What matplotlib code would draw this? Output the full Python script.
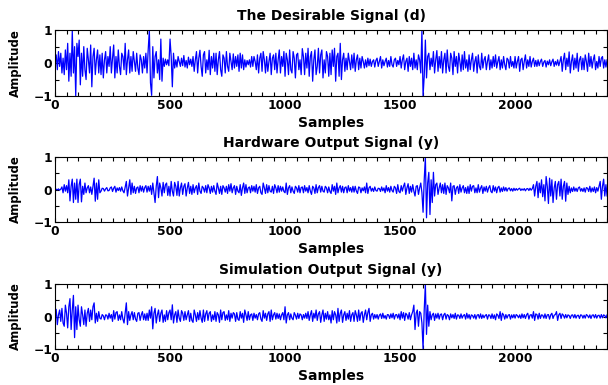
import numpy as np
import matplotlib.pyplot as plt
from matplotlib.ticker import MultipleLocator

plt.rcParams['font.family'] = ['DejaVu Sans']
plt.rcParams['font.weight'] = 'bold'

# sample step between the values
step = 5

# The Desirable Signal (d), one row per 100 samples
desired = [
    .05, .25, -.2, .35, -.1, .3, -.3, .15, -.35, .4, -.2, .6, -.55, .3, -.4, .97, -.3, .5, -1.0, .6,
    .2, .7, -.66, .3, -.4, .5, -.2, -.5, .45, .1, -.3, .55, -.72, .2, .45, -.35, .1, .4, -.3, .25,
    -.35, .3, -.45, .1, .35, -.3, .2, -.1, .5, -.3, .15, .55, -.45, .2, -.3, .4, -.1, -.35, .3, .2,
    -.2, .6, -.35, .1, .4, -.3, .2, -.25, .35, .05, -.25, .3, -.15, -.35, .25, .1, -.3, .2, -.15, .3,
    -.3, .4, 1.0, -.6, -.98, .5, -.45, .2, .35, -.3, .1, -.5, .73, -.55, .15, -.1, .12, -.05, .1, -.08,
    .73, .2, -.72, .3, -.15, .1, -.12, .2, .05, -.1, .15, -.08, .23, -.12, .08, -.15, .18, -.05, .12, -.1,
    .2, -.25, .1, .35, -.3, .15, .39, -.1, -.4, .25, .35, -.3, .1, -.2, .39, -.35, .2, -.15, .3, -.25,
    .3, -.35, .1, .35, -.2, -.4, .25, .15, -.3, .35, -.1, -.25, .3, .05, -.2, .28, -.15, .2, -.1, .25,
    -.25, .3, -.15, .25, -.2, .1, -.12, .08, -.05, .1, -.12, .2, -.1, .2, .05, -.2, .25, -.3, .15, .3,
    -.25, .35, .1, -.3, .2, -.25, .05, .3, -.35, .15, .25, -.2, .3, -.3, .1, .4, -.3, .2, -.1, .35,
    -.4, .3, .1, -.35, .4, -.2, -.3, .35, .15, -.45, .25, .3, -.2, .1, -.35, .44, .2, -.35, .3, -.15,
    .45, -.4, .2, .35, -.55, .1, .4, -.35, -.1, .45, -.3, .25, .4, -.45, .1, -.3, .35, .2, -.4, .3,
    -.35, .4, -.1, .45, -.55, .2, .3, -.4, .6, -.5, .1, .3, -.25, .15, -.2, .3, .05, -.2, .25, -.15,
    .3, -.25, .1, .25, -.2, .15, -.15, .2, .05, -.15, .1, -.12, .15, -.08, .12, -.1, .05, .1, -.12, .08,
    .15, -.1, .05, .2, -.15, .1, -.08, .05, .15, -.12, .08, -.1, .2, -.05, -.12, .1, .15, -.1, .08, -.05,
    .2, -.15, .1, .25, -.2, .05, .15, -.25, .2, -.1, .15, -.2, .3, -.15, .1, -.2, .25, .1, -.3, 1.0,
    -1.0, -.4, .7, -.45, .2, .3, -.2, .15, -.1, .35, -.3, .1, .38, -.25, .2, -.15, .35, -.3, .1, .3,
    -.3, .4, -.1, -.25, .3, .15, -.35, .35, -.1, .2, -.3, .3, .05, -.25, .25, -.2, .35, -.15, .1, -.25,
    .25, -.2, .1, .3, -.25, .05, .2, -.3, .25, -.1, -.2, .3, -.15, .1, .2, -.2, .05, .25, -.2, .1,
    -.15, .2, -.1, .25, -.15, .05, .2, -.2, .1, -.15, .2, -.05, -.2, .15, .1, -.15, .2, -.1, .05, -.15,
    .2, -.15, .05, .2, -.25, .1, .15, -.2, .05, .25, -.15, .1, -.1, .2, -.12, .05, .15, -.1, .08, -.1,
    .1, -.08, .05, .12, -.1, .03, .08, -.12, .06, -.05, .1, -.08, .04, .12, -.1, .05, -.06, .1, -.08, .05,
    .2, -.25, .1, .3, -.2, .15, -.1, .34, -.3, .05, .25, -.2, .15, -.15, .3, -.25, .1, .2, -.2, .15,
    -.2, .25, .05, -.25, .3, -.1, .2, -.15, .1, .25, -.2, .05, -.15, .2, -.1, .15, .2, -.15, .1, -.12,
    .1,
]

# Hardware Output Signal (y)
hardware = [
    0, .01, -.01, .02, -.02, .01, .08, -.1, .15, -.05, .12, -.1, .3, -.35, .1, .32, -.4, .2, -.3, .32,
    -.4, .15, .32, -.38, .1, -.15, .2, -.1, .05, .12, -.1, .08, -.15, .1, .35, -.36, .2, -.3, .3, -.1,
    -.05, .04, .03, -.05, .02, .06, -.04, -.03, .05, .08, -.06, .04, .1, -.08, .05, -.03, .06, -.05, .08, -.04,
    -.1, .08, .25, -.2, .05, .3, -.15, .2, -.1, .1, -.12, .05, .08, -.1, .12, -.05, .1, -.08, .06, .12,
    -.08, .1, -.05, .12, -.15, .2, -.1, -.4, .1, .4, -.25, .2, .05, -.2, .22, -.1, .15, .2, -.18, .1,
    -.2, .25, -.05, -.2, .22, .1, -.18, .25, -.2, .05, .2, -.15, .1, .18, -.2, .05, .22, -.12, .1, -.15,
    .15, -.1, .05, .12, -.15, .2, -.05, -.12, .1, .05, -.08, .12, -.1, .15, .05, -.12, .1, -.08, .12, -.05,
    -.15, .2, .05, -.12, .1, -.15, .12, .05, -.08, .1, -.12, .15, -.05, .18, -.1, .05, .12, -.15, .1, -.05,
    -.1, .15, -.18, .05, .2, -.12, .15, -.1, .05, .08, -.1, .12, -.05, .1, -.08, .15, -.12, .05, .1, -.1,
    -.15, .2, .05, -.12, .15, -.1, .12, -.05, -.08, .1, -.12, .15, .05, -.1, .12, -.08, .1, -.05, .08, -.06,
    -.1, .2, -.15, .05, .12, -.1, .08, -.05, -.12, .1, .05, -.08, .12, -.1, .06, .08, -.1, .12, -.05, .06,
    -.1, .12, -.05, -.15, .1, .05, -.12, .15, -.1, .06, .12, -.08, .1, -.05, -.08, .1, .05, -.1, .08, -.06,
    -.12, .15, -.05, .1, -.15, .2, -.1, .05, .12, -.08, .1, -.1, .06, .08, -.1, .12, -.05, .06, -.08, .1,
    -.08, .1, -.05, -.12, .08, .06, -.1, .05, -.04, .08, -.1, .2, -.12, .05, .1, -.05, .04, -.06, .08, -.03,
    -.05, .04, .03, -.06, .08, -.04, .05, -.1, .12, -.05, .06, -.08, .1, -.03, -.08, .1, .05, -.12, .15, -.06,
    -.1, .12, -.05, .1, .2, -.15, .05, .18, -.12, .1, -.08, .15, -.05, -.2, .1, .12, -.15, .05, .2, -.1,
    -.7, .3, 1.0, -.87, .2, .53, -.77, .3, -.4, .53, -.2, .15, .2, -.15, .05, .2, -.1, .15, -.12, .2,
    -.15, .12, .05, -.1, .2, -.35, .1, .12, -.15, .05, .1, -.12, .15, -.08, .05, .12, -.1, .06, -.12, .1,
    -.12, .15, -.05, .1, .12, -.1, .05, -.1, .15, -.08, .04, .12, -.12, .08, -.05, .1, -.08, .05, .12, -.06,
    -.1, .12, -.05, .08, -.1, .06, .1, -.08, .05, -.06, .08, -.04, .06, -.05, .03, .05, -.04, .03, -.05, .04,
    -.03, .03, -.02, .02, .04, -.03, .02, -.02, .03, -.04, .02, .03, -.03, .04, -.02, .03, .15, -.2, .1, .25,
    -.25, .2, -.1, .3, -.22, .15, -.35, .4, .1, -.43, .35, -.2, .3, -.4, .05, .25, -.3, .15, .25, -.2,
    .32, -.3, .1, .25, -.36, .2, -.15, .1, -.1, .05, -.06, .08, -.05, .04, -.06, .05, .08, -.05, .03, -.06,
    .05, -.08, .06, .04, -.06, .1, -.08, .05, -.06, .08, -.1, .06, -.05, .1, .25, -.3, .1, .32, -.2, .15,
    -.2,
]

# Simulation Output Signal (y)
simulation = [
    .1, .22, -.25, .05, .2, -.15, .25, -.2, -.3, .35, .1, -.35, .3, .55, -.4, .2, .65, -.65, .3, -.4,
    .35, -.1, -.3, .3, .05, -.25, .2, -.3, .1, .25, -.15, .2, -.1, .3, .42, -.2, .1, -.15, .15, -.05,
    -.08, .06, .02, -.1, .05, .04, -.08, .1, -.05, .06, -.15, .18, -.08, .12, .15, -.12, .05, -.1, .15, -.08,
    -.2, .1, .42, -.25, .15, -.12, .05, .15, -.1, .12, -.08, -.15, .1, .12, -.12, .05, .15, -.1, .08, -.12,
    .1, -.12, .2, -.05, .3, -.38, .1, .25, -.2, .05, .2, -.15, .1, .2, -.18, .05, -.15, .18, -.1, .12,
    .2, -.1, .36, -.2, .05, .15, -.18, .2, -.05, -.15, .18, .1, -.12, .15, -.1, .05, .18, -.15, .1, -.12,
    -.18, .2, .05, -.15, .12, -.1, .18, -.05, -.18, .2, -.15, .08, .18, -.12, .1, .15, -.15, .05, -.1, .15,
    -.15, .12, .05, -.18, .2, -.1, .12, .15, -.12, .05, -.1, .18, -.15, .1, -.05, .12, .08, -.15, .12, -.08,
    -.12, .15, -.05, .1, -.18, .2, .05, -.12, .15, -.1, .05, .08, -.12, .1, -.05, .06, -.1, .08, .12, -.08,
    -.15, .18, -.05, .1, -.12, .08, .15, -.15, .2, -.1, .05, .12, -.08, .1, -.06, .08, -.1, .05, .12, -.1,
    .3, -.2, .05, .12, -.1, .08, -.05, -.1, .12, .04, -.08, .1, -.06, .08, .05, -.1, .06, -.05, .1, -.06,
    .15, -.12, .05, .18, -.15, .1, -.05, .2, -.12, .08, .15, -.18, .05, .2, -.15, .1, -.08, .15, -.1, .05,
    -.2, .18, -.1, .15, .05, -.2, .25, -.15, .1, .2, -.18, .05, .15, -.12, .1, -.08, .18, -.15, .05, .12,
    -.15, .18, .05, -.15, .2, -.12, .1, .15, -.18, .05, .2, -.1, .12, .25, -.15, .05, .1, -.08, .06, -.05,
    .06, -.08, .04, .08, -.06, .1, -.05, .03, -.08, .06, .05, -.06, .08, -.04, .1, -.08, .05, .06, -.05, .08,
    -.1, .15, -.05, .12, -.12, .1, .05, -.08, .12, -.1, .05, .15, .35, -.4, .1, .2, -.3, .15, .1, -.2,
    -1.0, .2, 1.0, -.55, .35, -.3, .15, -.1, .05, .1, -.12, .08, -.05, .1, -.08, .06, .08, -.1, .05, .1,
    -.08, .06, .03, -.1, .08, -.04, .06, -.06, .1, -.08, .05, .04, -.06, .08, -.05, .03, .06, -.08, .1, -.05,
    .06, -.08, .05, .03, -.05, .06, -.08, .04, .06, -.05, .08, -.06, .05, -.04, .03, .06, -.08, .05, .04, -.06,
    .08, -.06, .05, -.1, .08, .04, -.06, .15, -.12, .1, .05, -.08, .06, -.05, .04, .06, -.08, .05, -.04, .06,
    -.05, .06, .03, -.04, .05, -.06, .08, -.04, .06, -.06, .05, .1, -.08, .04, .06, -.05, .15, -.12, .08, .06,
    -.08, .1, -.06, .05, .04, -.05, .08, -.06, .05, .06, -.08, .05, .1, -.06, .04, .06, .15, -.12, .05, .1,
    -.06, .08, .04, -.05, .06, -.04, .05, .03, -.06, .04, .05, -.04, .06, -.05, .03, .04, -.06, .05, .04, -.05,
    .04, -.05, .06, .03, -.04, .05, -.06, .04, .05, -.04, .06, -.05, .03, .04, -.05, .06, -.04, .05, .03, -.04,
    .05,
]

titles = ['The Desirable Signal (d)', 'Hardware Output Signal (y)',
          'Simulation Output Signal (y)']
signals = [desired, hardware, simulation]

fig = plt.figure(figsize=(6.08, 3.85), dpi=100)
# axes boxes [left, bottom, width, height] in figure fractions
boxes = [[0.0905, 0.7506, 0.908, 0.171],
         [0.0905, 0.4234, 0.908, 0.1686],
         [0.0905, 0.0935, 0.908, 0.1688]]

for box, sig, title in zip(boxes, signals, titles):
    ax = fig.add_axes(box)
    x = np.arange(len(sig)) * step
    ax.plot(x, sig, color='#0000ff', linewidth=0.9)
    ax.set_xlim(0, 2400)
    ax.set_ylim(-1, 1)
    ax.xaxis.set_major_locator(MultipleLocator(500))
    ax.xaxis.set_minor_locator(MultipleLocator(50))
    ax.yaxis.set_major_locator(MultipleLocator(1))
    ax.yaxis.set_minor_locator(MultipleLocator(0.5))
    ax.tick_params(which='both', direction='in', top=True, right=True,
                   length=3, width=0.8, labelsize=8.8, pad=2)
    for lab in ax.get_xticklabels() + ax.get_yticklabels():
        lab.set_fontweight('bold')
    for sp in ax.spines.values():
        sp.set_linewidth(0.8)
    ax.set_title(title, fontsize=10, fontweight='bold', pad=7)
    ax.set_xlabel('Samples', fontsize=10, fontweight='bold', labelpad=3)
    ax.set_ylabel('Amplitude', fontsize=8.5, fontweight='bold', labelpad=8)

fig.savefig('out.png', dpi=100)
